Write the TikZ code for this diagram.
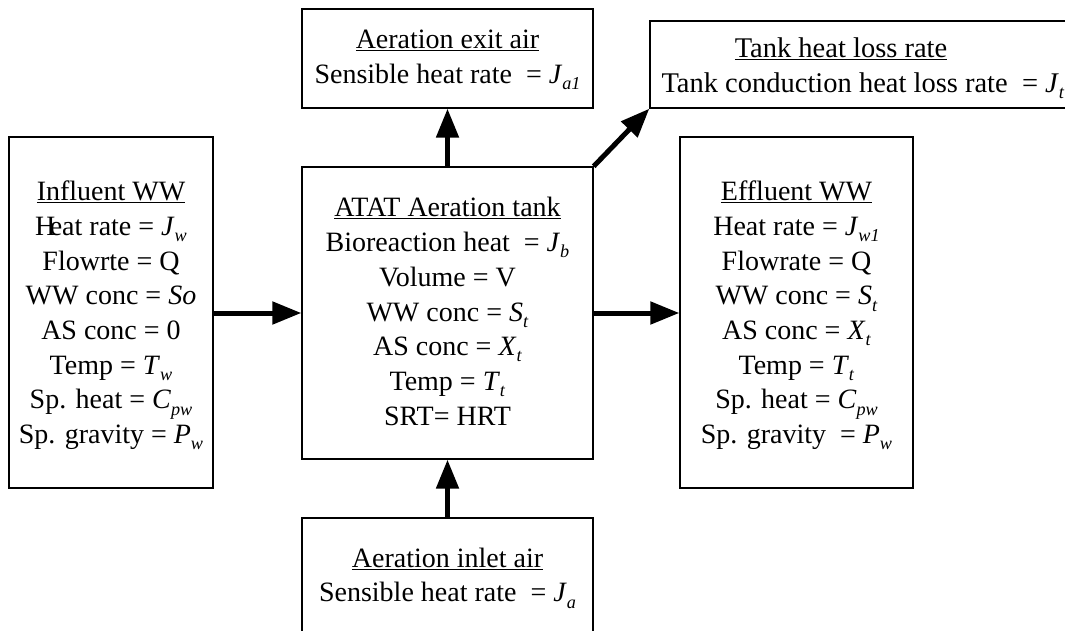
\documentclass[tikz,border=0pt]{standalone}
\usepackage{fontspec}
\usepackage{graphicx}
\setmainfont{Liberation Serif}
\usetikzlibrary{arrows.meta}
\newcommand\vsb[2]{\textit{#1}\raisebox{-0.22em}{\scalebox{0.65}{\textit{#2}}}}
\tikzset{
  box/.style={draw=black, line width=1.3pt, rectangle, inner sep=0pt},
  txt/.style={align=center, inner sep=0pt, font=\fontsize{28}{34.7}\selectfont},
  flow/.style={line width=5pt, -{Triangle[length=29pt,width=22pt]}}
}
\begin{document}
\begin{tikzpicture}[x=1pt,y=-1pt]
\clip (0,0) rectangle (1065,631);
\fill[white] (0,0) rectangle (1065,631);
% boxes
\node[box, minimum width=291pt, minimum height=99pt]  (exitB) at (447.5,58.5) {};
\node[box, minimum width=425pt, minimum height=87pt]  (tankB) at (862.5,64.5) {};
\node[box, minimum width=204pt, minimum height=351pt] (infB)  at (111,312.5) {};
\node[box, minimum width=291pt, minimum height=292pt] (tankC) at (447.5,313) {};
\node[box, minimum width=233pt, minimum height=351pt] (effB)  at (796.5,312.5) {};
\node[box, minimum width=291pt, minimum height=127pt] (inB)   at (447.5,581.5) {};
% texts
\node[txt] (exitT) at (447.5,60) {\underline{Aeration exit air}\\Sensible heat rate \ = \vsb{J}{a1}};
\node[align=center, inner sep=0pt, font=\fontsize{28.5}{34.7}\selectfont] (tankT) at (863,68.4)
  {\underline{Tank heat loss rate}\hspace*{44pt}\\Tank conduction heat loss rate \ = \vsb{J}{t}};
\node[txt] (infT) at (111,315.5) {\underline{Influent WW}\\H\kern-0.2em eat rate = \vsb{J}{w}\\Flowrte = Q\\WW conc = \textit{So}\\AS conc = 0\\Temp = \vsb{T}{w}\\Sp. heat = \vsb{C}{pw}\\Sp. gravity = \vsb{P}{w}};
\node[txt] (tankCT) at (447.5,311.5) {\underline{ATAT Aeration tank}\\Bioreaction heat \ = \vsb{J}{b}\\Volume = V\\WW conc = \vsb{S}{t}\\AS conc = \vsb{X}{t}\\Temp = \vsb{T}{t}\\SRT= HRT};
\node[txt] (effT) at (796.5,315.5) {\underline{Effluent WW}\\Heat rate = \vsb{J}{w1}\\Flowrate = Q\\WW conc = \vsb{S}{t}\\AS conc = \vsb{X}{t}\\Temp = \vsb{T}{t}\\Sp. heat = \vsb{C}{pw}\\Sp. gravity \ = \vsb{P}{w}};
\node[txt] (inT) at (447.5,578) {\underline{Aeration inlet air}\\Sensible heat rate \ = \vsb{J}{a}};
% arrows
\draw[flow] (infB.east |- tankC.west) -- (tankC.west);
\draw[flow] (tankC.east) -- (tankC.east -| effB.west);
\draw[flow] (tankC.north) -- (exitB.south);
\draw[flow] (inB.north) -- (tankC.south);
\draw[flow] (tankC.north east) -- (tankB.south west);
\end{tikzpicture}
\end{document}
